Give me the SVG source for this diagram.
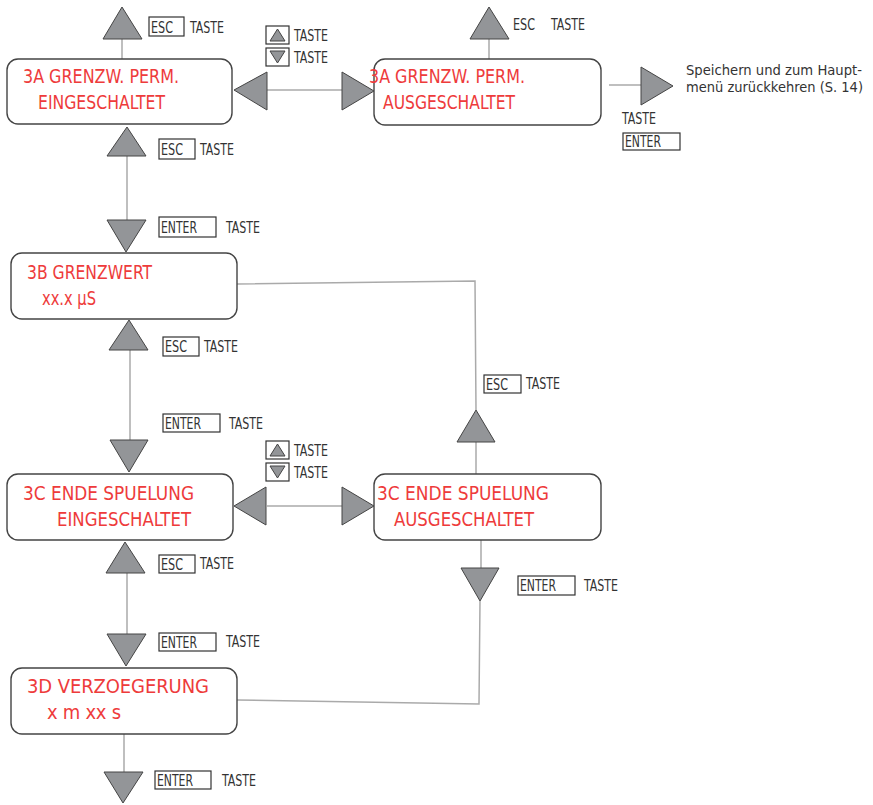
<svg xmlns="http://www.w3.org/2000/svg" width="873" height="805" viewBox="0 0 873 805">
<style>
.box{fill:#fff;stroke:#444;stroke-width:1.4}
.red{fill:#ee3b3b;font-family:"DejaVu Sans Condensed","Liberation Sans",sans-serif;font-stretch:condensed;font-size:20px}
.lbl{fill:#333;font-family:"DejaVu Sans Condensed","Liberation Sans",sans-serif;font-stretch:condensed;font-size:15px}
.note{fill:#333;font-family:"DejaVu Sans Condensed","Liberation Sans",sans-serif;font-stretch:condensed;font-size:14.5px}
.key{fill:#fff;stroke:#333;stroke-width:1.2}
.ln{fill:none;stroke:#aaa;stroke-width:1.5}
.tri{fill:#939598;stroke:#444;stroke-width:1}
</style>
<rect width="873" height="805" fill="#fff"/>

<g id="connectors">
  <line class="ln" x1="122" y1="39" x2="122" y2="59"/>
  <line class="ln" x1="267" y1="90" x2="342" y2="90"/>
  <line class="ln" x1="489" y1="39" x2="489" y2="59"/>
  <line class="ln" x1="609" y1="85" x2="641" y2="85"/>
  <line class="ln" x1="127" y1="156" x2="127" y2="220"/>
  <polyline class="ln" points="237,284 475,281 476,410"/>
  <line class="ln" x1="476" y1="442" x2="476" y2="474"/>
  <line class="ln" x1="130" y1="350" x2="130" y2="440"/>
  <line class="ln" x1="267" y1="506" x2="342" y2="506"/>
  <line class="ln" x1="127" y1="573" x2="127" y2="634"/>
  <line class="ln" x1="481" y1="540" x2="481" y2="568"/>
  <polyline class="ln" points="480,601 479,704 237,700"/>
  <line class="ln" x1="124" y1="734" x2="124" y2="772"/>

  <polygon class="tri" points="122,7 142,39 103,39"/>
  <polygon class="tri" points="489,7 509,39 470,39"/>
  <polygon class="tri" points="234,90 267,72 267,110"/>
  <polygon class="tri" points="374,91 342,72 342,110"/>
  <polygon class="tri" points="673,86 641,67 641,105"/>
  <polygon class="tri" points="127,127 146,156 107,156"/>
  <polygon class="tri" points="107,220 146,220 126,252"/>
  <polygon class="tri" points="129,320 148,350 109,350"/>
  <polygon class="tri" points="110,440 148,440 129,472"/>
  <polygon class="tri" points="476,410 495,442 457,442"/>
  <polygon class="tri" points="234,506 266,487 266,525"/>
  <polygon class="tri" points="374,506 342,487 342,525"/>
  <polygon class="tri" points="125,542 145,573 106,573"/>
  <polygon class="tri" points="107,634 146,634 126,666"/>
  <polygon class="tri" points="461,568 499,568 480,601"/>
  <polygon class="tri" points="104,772 143,772 123,803"/>
</g>

<g id="node-3a-ein">
  <rect class="box" x="7" y="59" width="225" height="65" rx="11"/>
  <text class="red" x="23" y="83" textLength="156" lengthAdjust="spacingAndGlyphs">3A GRENZW. PERM.</text>
  <text class="red" x="38" y="109" textLength="127" lengthAdjust="spacingAndGlyphs">EINGESCHALTET</text>
</g>
<g id="node-3a-aus">
  <rect class="box" x="374" y="59" width="227" height="66" rx="11"/>
  <text class="red" x="369" y="83" textLength="156" lengthAdjust="spacingAndGlyphs">3A GRENZW. PERM.</text>
  <text class="red" x="383" y="109" textLength="132" lengthAdjust="spacingAndGlyphs">AUSGESCHALTET</text>
</g>
<g id="node-3b">
  <rect class="box" x="11" y="253" width="226" height="66" rx="11"/>
  <text class="red" x="27" y="279" textLength="125" lengthAdjust="spacingAndGlyphs">3B GRENZWERT</text>
  <text class="red" x="42" y="305" textLength="54" lengthAdjust="spacingAndGlyphs">xx.x µS</text>
</g>
<g id="node-3c-ein">
  <rect class="box" x="7" y="474" width="226" height="66" rx="11"/>
  <text class="red" x="23" y="500" textLength="171" lengthAdjust="spacingAndGlyphs">3C ENDE SPUELUNG</text>
  <text class="red" x="57" y="526" textLength="134" lengthAdjust="spacingAndGlyphs">EINGESCHALTET</text>
</g>
<g id="node-3c-aus">
  <rect class="box" x="374" y="474" width="227" height="66" rx="11"/>
  <text class="red" x="377" y="500" textLength="172" lengthAdjust="spacingAndGlyphs">3C ENDE SPUELUNG</text>
  <text class="red" x="394" y="526" textLength="140" lengthAdjust="spacingAndGlyphs">AUSGESCHALTET</text>
</g>
<g id="node-3d">
  <rect class="box" x="11" y="668" width="226" height="66" rx="11"/>
  <text class="red" x="27" y="693" textLength="182" lengthAdjust="spacing">3D VERZOEGERUNG</text>
  <text class="red" x="47" y="719" textLength="74" lengthAdjust="spacing">x m xx s</text>
</g>

<g id="labels">
  <rect class="key" x="149" y="17" width="35" height="19"/>
  <text class="lbl" x="151" y="33" textLength="22" lengthAdjust="spacingAndGlyphs">ESC</text>
  <text class="lbl" x="190" y="33" textLength="34" lengthAdjust="spacingAndGlyphs">TASTE</text>

  <rect class="key" x="266" y="26" width="23" height="18"/>
  <polygon class="tri" points="277.5,29 285,41 270,41"/>
  <rect class="key" x="266" y="48" width="23" height="18"/>
  <polygon class="tri" points="270,51 285,51 277.5,63"/>
  <text class="lbl" x="294" y="41" textLength="34" lengthAdjust="spacingAndGlyphs">TASTE</text>
  <text class="lbl" x="294" y="63" textLength="34" lengthAdjust="spacingAndGlyphs">TASTE</text>

  <text class="lbl" x="513" y="30" textLength="22" lengthAdjust="spacingAndGlyphs">ESC</text>
  <text class="lbl" x="551" y="30" textLength="34" lengthAdjust="spacingAndGlyphs">TASTE</text>

  <text class="note" x="686" y="75" textLength="176" lengthAdjust="spacingAndGlyphs">Speichern und zum Haupt-</text>
  <text class="note" x="686" y="92" textLength="177" lengthAdjust="spacingAndGlyphs">menü zurückkehren (S. 14)</text>
  <text class="lbl" x="622" y="124" textLength="34" lengthAdjust="spacingAndGlyphs">TASTE</text>
  <rect class="key" x="623" y="133" width="57" height="17"/>
  <text class="lbl" x="625" y="147" textLength="36" lengthAdjust="spacingAndGlyphs">ENTER</text>

  <rect class="key" x="159" y="139" width="36" height="20"/>
  <text class="lbl" x="161" y="155" textLength="22" lengthAdjust="spacingAndGlyphs">ESC</text>
  <text class="lbl" x="200" y="155" textLength="34" lengthAdjust="spacingAndGlyphs">TASTE</text>

  <rect class="key" x="159" y="217" width="57" height="20"/>
  <text class="lbl" x="161" y="233" textLength="36" lengthAdjust="spacingAndGlyphs">ENTER</text>
  <text class="lbl" x="226" y="233" textLength="34" lengthAdjust="spacingAndGlyphs">TASTE</text>

  <rect class="key" x="163" y="337" width="36" height="19"/>
  <text class="lbl" x="165" y="352" textLength="22" lengthAdjust="spacingAndGlyphs">ESC</text>
  <text class="lbl" x="204" y="352" textLength="34" lengthAdjust="spacingAndGlyphs">TASTE</text>

  <rect class="key" x="163" y="414" width="57" height="18"/>
  <text class="lbl" x="165" y="429" textLength="36" lengthAdjust="spacingAndGlyphs">ENTER</text>
  <text class="lbl" x="229" y="429" textLength="34" lengthAdjust="spacingAndGlyphs">TASTE</text>

  <rect class="key" x="484" y="375" width="37" height="18"/>
  <text class="lbl" x="486" y="390" textLength="22" lengthAdjust="spacingAndGlyphs">ESC</text>
  <text class="lbl" x="526" y="389" textLength="34" lengthAdjust="spacingAndGlyphs">TASTE</text>

  <rect class="key" x="266" y="441" width="23" height="18"/>
  <polygon class="tri" points="277.5,444 285,456 270,456"/>
  <rect class="key" x="266" y="463" width="23" height="18"/>
  <polygon class="tri" points="270,466 285,466 277.5,478"/>
  <text class="lbl" x="294" y="456" textLength="34" lengthAdjust="spacingAndGlyphs">TASTE</text>
  <text class="lbl" x="294" y="478" textLength="34" lengthAdjust="spacingAndGlyphs">TASTE</text>

  <rect class="key" x="159" y="555" width="36" height="18"/>
  <text class="lbl" x="161" y="570" textLength="22" lengthAdjust="spacingAndGlyphs">ESC</text>
  <text class="lbl" x="200" y="569" textLength="34" lengthAdjust="spacingAndGlyphs">TASTE</text>

  <rect class="key" x="518" y="576" width="57" height="19"/>
  <text class="lbl" x="520" y="591" textLength="36" lengthAdjust="spacingAndGlyphs">ENTER</text>
  <text class="lbl" x="584" y="591" textLength="34" lengthAdjust="spacingAndGlyphs">TASTE</text>

  <rect class="key" x="159" y="633" width="57" height="18"/>
  <text class="lbl" x="161" y="648" textLength="36" lengthAdjust="spacingAndGlyphs">ENTER</text>
  <text class="lbl" x="226" y="647" textLength="34" lengthAdjust="spacingAndGlyphs">TASTE</text>

  <rect class="key" x="155" y="771" width="56" height="18"/>
  <text class="lbl" x="157" y="786" textLength="36" lengthAdjust="spacingAndGlyphs">ENTER</text>
  <text class="lbl" x="222" y="786" textLength="34" lengthAdjust="spacingAndGlyphs">TASTE</text>
</g>
</svg>
